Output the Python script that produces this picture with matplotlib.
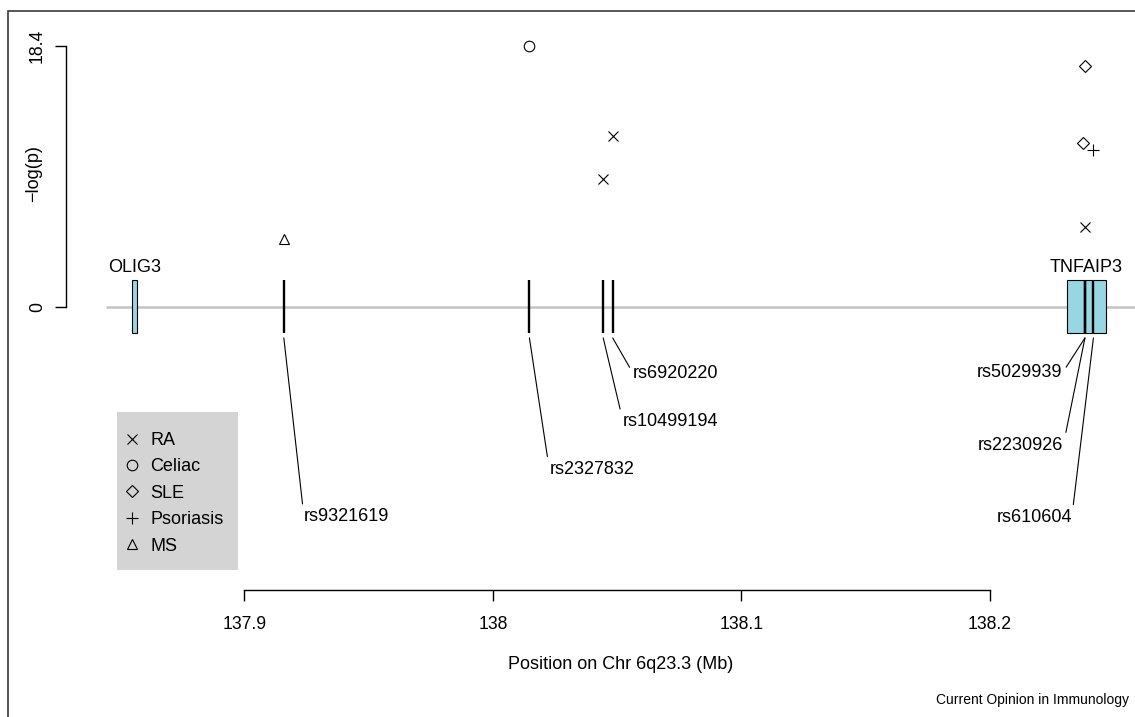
import matplotlib
matplotlib.use("Agg")
import matplotlib.pyplot as plt
from matplotlib.patches import Rectangle

plt.rcParams['font.family'] = ['Liberation Sans', 'DejaVu Sans']

# ---------------- data ----------------
genes = ['OLIG3', 'TNFAIP3']
gene_start = [137.8547, 138.2309]
gene_end = [137.8570, 138.2465]

snp_names = ['rs9321619', 'rs2327832', 'rs10499194', 'rs6920220',
             'rs5029939', 'rs2230926', 'rs610604']
snp_pos = [137.9159, 138.0147, 138.0444, 138.0482,
           138.2382, 138.2382, 138.2416]

diseases = ['RA', 'Celiac', 'SLE', 'Psoriasis', 'MS']
ra_pos = [138.0444, 138.0482, 138.2382]
ra_val = [8.98, 12.03, 5.64]
celiac_pos = [138.0147]
celiac_val = [18.4]
sle_pos = [138.2375, 138.2382]
sle_val = [11.52, 17.0]
psoriasis_pos = [138.2416]
psoriasis_val = [11.05]
ms_pos = [137.9159]
ms_val = [4.74]

x_ticks = [137.9, 138.0, 138.1, 138.2]
x_ticklabels = ['137.9', '138', '138.1', '138.2']
y_ticks = [0, 18.4]
y_ticklabels = ['0', '18.4']

# label layout (annotation placement)
label_x = [137.9240, 138.0227, 138.0524, 138.0564, 138.2292, 138.2295, 138.2329]
label_y = [-14.8, -11.46, -8.11, -4.70, -4.65, -9.75, -14.85]
label_side = ['left', 'left', 'left', 'left', 'right', 'right', 'right']

# ---------------- figure ----------------
W, H = 1135, 717
fig = plt.figure(figsize=(W / 100, H / 100), dpi=100)
ax = fig.add_axes([0, 0, 1, 1])
ax.set_facecolor('none')

px_per_mb = 2485.7
px_per_unit = 14.185
x0_px, y0_px = 244.3, 306.7
ax.set_xlim(137.9 - x0_px / px_per_mb, 137.9 + (W - x0_px) / px_per_mb)
ax.set_ylim(-(H - y0_px) / px_per_unit, y0_px / px_per_unit)

# outer frame
fig.add_artist(Rectangle((7.5 / W, -0.1), 1.2, 1.1 - 11 / H, transform=fig.transFigure,
                         fill=False, edgecolor='#3a3a3a', lw=1.2))

# baseline
ax.plot([137.8444, ax.get_xlim()[1]], [0, 0], color='#c4c4c4', lw=1.8, zorder=1,
        solid_capstyle='butt')

# genes
box_half = 1.86
for g, s, e in zip(genes, gene_start, gene_end):
    ax.add_patch(Rectangle((s, -box_half), e - s, 2 * box_half,
                           facecolor='#98d6e1', edgecolor='black', lw=0.8, zorder=2))
    ax.text((s + e) / 2, 2.73, g, ha='center', va='center', fontsize=13)

# SNP bars
ax.vlines(snp_pos, -box_half, box_half, color='black', lw=1.7, zorder=3)

# SNP labels with leader lines
for name, p, lx, ly, side in zip(snp_names, snp_pos, label_x, label_y, label_side):
    relx = 0 if side == 'left' else 1
    ax.annotate(name, xy=(p, -2.2), xytext=(lx, ly), textcoords='data',
                ha=side, va='center', fontsize=13,
                arrowprops=dict(arrowstyle='-', lw=0.8, color='black',
                                shrinkA=1, shrinkB=0, relpos=(relx, 0.5)))

# points
mk = dict(linestyle='none', color='black', markerfacecolor='none', markeredgewidth=0.8)
ax.plot(ra_pos, ra_val, marker='x', markersize=6.8, label='RA', **mk)
ax.plot(celiac_pos, celiac_val, marker='o', markersize=7.6, label='Celiac', **mk)
ax.plot(sle_pos, sle_val, marker='D', markersize=6.0, label='SLE', **mk)
ax.plot(psoriasis_pos, psoriasis_val, marker='+', markersize=8.4, label='Psoriasis', **mk)
ax.plot(ms_pos, ms_val, marker='^', markersize=7.2, label='MS', **mk)

# legend
ax.add_patch(Rectangle((116.7 / W, 1 - 570 / H), 121.6 / W, 158.3 / H,
                       transform=ax.transAxes, facecolor='#d3d4d3', edgecolor='none', zorder=0))
ax.legend(loc='upper left', bbox_to_anchor=(123 / W, 1 - 432 / H),
          frameon=False, fontsize=13, borderpad=0, borderaxespad=0,
          handlelength=1.0, handletextpad=0.5, labelspacing=0.52)

# axes
for s in ['top', 'right']:
    ax.spines[s].set_visible(False)
ax.spines['left'].set_position(('data', 137.9 + (66 - x0_px) / px_per_mb))
ax.spines['left'].set_bounds(0, 18.4)
ax.spines['bottom'].set_position(('data', -(590 - y0_px) / px_per_unit))
ax.spines['bottom'].set_bounds(137.9, 138.2)
for s in ['left', 'bottom']:
    ax.spines[s].set_linewidth(1.0)
    ax.spines[s].set_color('black')

ax.set_xticks(x_ticks)
ax.set_xticklabels(x_ticklabels)
ax.set_yticks(y_ticks)
ax.set_yticklabels(y_ticklabels, rotation=90, va='center')
ax.tick_params(axis='both', direction='out', length=8, width=1.0, labelsize=12.7)
ax.tick_params(axis='x', pad=10.5)
ax.tick_params(axis='y', pad=6.5)

ax.set_xlabel('Position on Chr 6q23.3 (Mb)', fontsize=13)
ax.xaxis.set_label_coords(621 / W, 1 - 656 / H)
ax.set_ylabel('\u2212log(p)', fontsize=13)
ax.yaxis.set_label_coords(42 / W, 1 - 174 / H)

fig.text(1129 / W, 1 - 700 / H, 'Current Opinion in Immunology', ha='right', va='center',
         fontsize=10)

fig.savefig('out.png', dpi=100)
